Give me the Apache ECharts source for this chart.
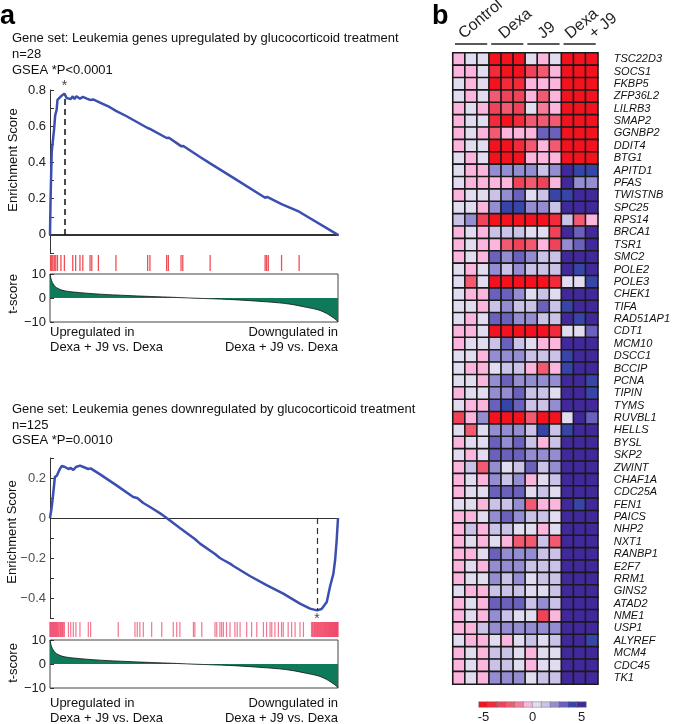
<!DOCTYPE html>
<html><head><meta charset="utf-8">
<script src="https://cdn.jsdelivr.net/npm/echarts@6/dist/echarts.min.js"></script>
<style>html,body{margin:0;padding:0;background:#fff}#c{width:673px;height:724px}</style>
</head><body><div id="c"></div>
<script>
// ---------------- Panel a data ----------------
const upTitle = 'Gene set: Leukemia genes upregulated by glucocorticoid treatment\nn=28\nGSEA *P<0.0001';
const downTitle = 'Gene set: Leukemia genes downregulated by glucocorticoid treatment\nn=125\nGSEA *P=0.0010';
const leftNote = 'Upregulated in\nDexa + J9 vs. Dexa';
const rightNote = 'Downgulated in\nDexa + J9 vs. Dexa';

const upCurve = [[0,0],[2,0.2],[4,0.33],[6,0.46],[10,0.46],[14,0.58],[18,0.66],[23,0.69],[26,0.745],[30,0.74],[38,0.765],[50,0.78],[58,0.755],[64,0.765],[72,0.75],[79,0.765],[85,0.75],[92,0.765],[104,0.752],[114,0.762],[128,0.752],[139,0.745],[145,0.755],[150,0.748],[168,0.735],[170,0.742],[208,0.705],[229,0.685],[231,0.691],[266,0.655],[339,0.59],[341,0.594],[347,0.585],[349,0.589],[405,0.535],[407,0.539],[411,0.532],[413,0.536],[455,0.49],[457,0.494],[461,0.487],[463,0.491],[521,0.43],[556,0.395],[558,0.399],[637,0.315],[747,0.205],[749,0.209],[752,0.206],[754,0.21],[758,0.206],[760,0.21],[804,0.17],[806,0.175],[865,0.128],[867,0.133],[1000,0]];
const upHits = [2,6,10,15,20,26,38,50,79,89,104,114,139,145,168,229,339,347,405,411,455,461,556,747,752,758,804,865];
const upPeak = [50, 0.78];
const upESTicks = [-0.1,0,0.1,0.2,0.3,0.4,0.5,0.6,0.7,0.8];
const upESLabels = [0,0.2,0.4,0.6,0.8];

const downCurve = [[0,0],[6,0.055],[11,0.12],[17,0.205],[24,0.212],[29,0.222],[35,0.247],[41,0.26],[52,0.255],[64,0.245],[72,0.25],[81,0.24],[90,0.255],[104,0.262],[116,0.255],[133,0.245],[141,0.248],[174,0.218],[231,0.163],[289,0.105],[303,0.1],[324,0.075],[353,0.05],[388,0.018],[405,0],[428,-0.025],[451,-0.05],[503,-0.105],[521,-0.128],[573,-0.18],[590,-0.2],[602,-0.21],[625,-0.228],[637,-0.24],[694,-0.29],[752,-0.336],[810,-0.378],[868,-0.428],[903,-0.453],[927,-0.462],[943,-0.455],[961,-0.42],[972,-0.345],[984,-0.278],[990,-0.21],[995,-0.12],[1000,0]];
const downHits = [0,1,3,5,7,9,11,13,15,17,19,21,23,25,27,29,32,35,37,39,42,44,46,50,
  64,72,81,90,104,133,141,237,295,303,312,324,353,388,428,440,451,498,503,527,573,579,590,596,602,613,625,642,650,660,683,700,718,741,752,764,770,781,793,804,810,827,839,851,868,880,
  908,911,913,916,918,920,922,925,927,929,931,933,935,937,939,941,943,945,947,949,951,953,954,956,958,960,961,963,965,966,968,969,971,972,974,975,977,978,980,981,983,984,985,987,988,989,991,992,993,994,995,996,997,998,999,1000];
const downPeak = [927, -0.462];
const downESTicks = [-0.5,-0.4,-0.3,-0.2,-0.1,0,0.1,0.2,0.3];
const downESLabels = [-0.4,-0.2,0,0.2];

const tScoreCurve = [[0,10],[3,8.2],[8,6.5],[15,5.2],[23,4.3],[41,3.3],[60,2.8],[81,2.5],[127,2.0],[174,1.6],[231,1.25],[289,0.93],[347,0.65],[405,0.4],[475,0.05],[521,-0.15],[579,-0.4],[637,-0.7],[694,-1.1],[752,-1.6],[810,-2.2],[850,-2.9],[891,-3.9],[920,-4.6],[938,-5.2],[960,-6.4],[972,-7.3],[985,-8.3],[995,-9.3],[1000,-10]];
const tTicks = [-10,0,10];

// ---------------- Panel b data ----------------
const genes = ['TSC22D3','SOCS1','FKBP5','ZFP36L2','LILRB3','SMAP2','GGNBP2','DDIT4','BTG1','APITD1','PFAS','TWISTNB','SPC25','RPS14','BRCA1','TSR1','SMC2','POLE2','POLE3','CHEK1','TIFA','RAD51AP1','CDT1','MCM10','DSCC1','BCCIP','PCNA','TIPIN','TYMS','RUVBL1','HELLS','BYSL','SKP2','ZWINT','CHAF1A','CDC25A','FEN1','PAICS','NHP2','NXT1','RANBP1','E2F7','RRM1','GINS2','ATAD2','NME1','USP1','ALYREF','MCM4','CDC45','TK1'];
const samples = ['C1','C2','C3','D1','D2','D3','J1','J2','J3','DJ1','DJ2','DJ3'];
const groupNames = ['Control','Dexa','J9','Dexa\n+ J9'];
const groupSpans = [[0,2],[3,5],[6,8],[9,11]];
const heatRows = [
[-0.5,0.5,0.5,-5,-5,-5,0.5,-0.5,0.5,-5,-5,-5],
[-0.5,-0.5,0.5,-4,-5,-5,-3,-2,-0.5,-5,-5,-5],
[0.5,-0.5,0.5,-5,-4,-4,-0.5,-0.5,-0.5,-5,-5,-5],
[0.5,-0.5,0.5,-2,-3,-3,-0.5,-2,-0.5,-5,-5,-5],
[-0.5,0.5,-0.5,-3,-2,-3,0.5,-1,-0.5,-5,-5,-5],
[-0.5,0.5,0.5,-4,-5,-4,-2,-2,-2,-5,-5,-5],
[-0.5,0.5,-0.5,-2,-0.5,-0.5,-0.5,3,3,-5,-5,-5],
[-0.5,0.5,0.5,-5,-5,-4,-2,-0.5,-2,-5,-5,-5],
[0.5,-0.5,0.5,-5,-5,-5,-0.5,-0.5,-0.5,-5,-5,-5],
[0.5,-0.5,-0.5,2,2,2,2,1,2,5,4,4],
[0.5,-0.5,-0.5,-0.5,-0.5,-3,-2,-3,-0.5,5,2,2],
[-0.5,0.5,0.5,1,2,3,0.5,1,4,4,5,5],
[0.5,0.5,-0.5,2,4,4,2,2,1,5,5,5],
[1,2,-3,-5,-5,-5,-5,-5,-4,1,-2,-0.5],
[-0.5,0.5,-0.5,1,1,1,0.5,0.5,-3,5,3,5],
[-0.5,0.5,-0.5,-0.5,-2,-3,-2,-0.5,-3,2,3,5],
[-0.5,0.5,-0.5,3,2,3,2,1,1,5,5,5],
[0.5,-0.5,0.5,2,1,2,1,1,1,5,4,5],
[0.5,-2,0.5,-5,-5,-5,-5,-5,-4,0.5,0.5,4],
[0.5,-0.5,-0.5,3,3,2,0.5,1,0.5,5,5,5],
[0.5,0.5,-0.5,1,2,1,1,3,1,4,5,5],
[0.5,-0.5,0.5,3,3,2,2,1,1,5,4,5],
[-0.5,-0.5,0.5,-5,-5,-5,-5,-5,-4,0.5,0.5,3],
[-0.5,0.5,0.5,1,3,1,0.5,-0.5,-0.5,5,5,5],
[0.5,0.5,-0.5,2,2,2,1,1,1,4,5,5],
[0.5,-0.5,-0.5,0.5,1,1,-0.5,-2,-0.5,4,5,5],
[0.5,0.5,-0.5,2,3,2,2,2,2,5,5,4],
[-0.5,0.5,0.5,2,2,3,1,1,0.5,5,5,4],
[0.5,-0.5,-0.5,3,4,3,1,1,2,5,5,5],
[-3,-0.5,2,-5,-5,-5,-2,-5,-5,0.5,5,3],
[0.5,-2,0.5,2,2,2,1,4,1,4,5,5],
[-0.5,0.5,0.5,3,2,3,1,-0.5,1,5,5,5],
[0.5,-0.5,0.5,3,3,3,2,2,2,5,5,5],
[-0.5,1,-2,2,0.5,1,3,1,2,5,5,5],
[-0.5,0.5,-0.5,2,1,2,-0.5,0.5,1,5,5,5],
[-0.5,0.5,0.5,3,3,3,0.5,1,0.5,5,5,5],
[0.5,0.5,-0.5,1,1,2,-2,-0.5,-0.5,5,4,5],
[-0.5,-0.5,0.5,2,3,2,1,1,0.5,5,5,5],
[-0.5,1,-0.5,1,1,0.5,0.5,-0.5,0.5,5,5,5],
[-0.5,0.5,-0.5,0.5,-0.5,-2,-2,1,-2,5,5,5],
[-0.5,-0.5,0.5,3,2,2,2,1,1,5,5,5],
[-0.5,0.5,-0.5,2,2,2,1,1,1,5,5,5],
[-0.5,0.5,0.5,2,1,2,0.5,1,1,5,5,5],
[0.5,-0.5,-0.5,1,1,1,0.5,0.5,1,5,5,5],
[-0.5,0.5,-0.5,3,3,3,1,2,1,5,5,5],
[-0.5,0.5,-0.5,2,1,0.5,0.5,-3,-0.5,5,5,5],
[-0.5,-0.5,1,2,2,2,2,2,2,5,5,5],
[0.5,-0.5,-0.5,0.5,-0.5,0.5,1,0.5,1,5,5,4],
[-0.5,0.5,-0.5,1,1,0.5,-0.5,0.5,0.5,5,5,5],
[-0.5,0.5,-0.5,1,1,0.5,-0.5,0.5,0.5,5,5,5],
[-0.5,0.5,-0.5,2,2,2,0.5,1,1,5,5,5]
];
const colorbarValues = [-5,-4,-3,-2,-1,-0.5,0.5,1,2,3,4,5];
const colorbarLabels = [-5,0,5];

// ---------------- styles ----------------
const FONT = '"Liberation Sans", Arial, Helvetica, sans-serif';
const binColors = ['#f3121e','#f22a3a','#f04258','#f25a72','#f77c98','#fcb6de','#e2dcf1','#cbc2e7','#948dd2','#6a61bd','#3745a9','#42299b'];
const CB_MIN = -60/11, CB_MAX = 60/11, CB_STEP = 10/11;
const pieces = binColors.map((c,i)=>({gte: CB_MIN+i*CB_STEP, lt: CB_MIN+(i+1)*CB_STEP+(i===binColors.length-1?0.01:0), color:c}));
const ES_BLUE = '#3a4fb0';
const T_GREEN = '#0f7a5a';
const LABEL_DX = [11, 15, 18, 9];
const LABEL_LINE2_DX = 24;
const LABEL_ANGLE = 40*Math.PI/180;

const minus = v => v < 0 ? '\u2212' + String(Math.abs(v)) : String(v);
const tenth = v => Math.round(Number(v)*10);
const esText = r => r === 0 ? '0' : (r < 0 ? '\u2212' : '') + (Math.abs(r)/10).toFixed(1);
const esFmt = v => esText(tenth(v));

const heatData = [];
heatRows.forEach((row,r)=>row.forEach((v,c)=>heatData.push([c,r,v])));

const GX = 50, GW = 288;
const axLabel = {color:'#222', fontSize:13, fontFamily:FONT};

function tY(grid){
  return {type:'value', gridIndex:grid, min:-10, max:10,
    axisLine:{show:false},
    axisTick:{show:true, inside:true, length:4, customValues:tTicks, lineStyle:{color:'#333'}},
    axisLabel:Object.assign({customValues:tTicks, formatter:minus, margin:4}, axLabel),
    splitLine:{show:false}};
}
function rankX(grid, lineShow, lineW){
  return {type:'value', gridIndex:grid, min:0, max:1000,
    axisLine:{show:lineShow, onZero:true, lineStyle:{color:'#333', width:lineW}},
    axisTick:{show:false}, axisLabel:{show:false}, splitLine:{show:false}};
}
function hiddenY(grid){ return {type:'value', gridIndex:grid, min:0, max:1, show:false}; }

const option = {
  animation:false,
  backgroundColor:'#fff',
  textStyle:{fontFamily:FONT},
  grid:[
    {left:GX, width:GW, top:90, height:163},
    {left:GX, width:GW, top:255, height:16},
    {left:GX, width:GW, top:274, height:48, show:true, borderColor:'#444', borderWidth:1},
    {left:GX, width:GW, top:458, height:160},
    {left:GX, width:GW, top:622, height:15},
    {left:GX, width:GW, top:640, height:48, show:true, borderColor:'#444', borderWidth:1},
    {left:453, width:146, top:53, height:631},
    {left:479, width:107, top:702, height:9}
  ],
  xAxis:[
    rankX(0, true, 2),
    rankX(1, false, 1),
    rankX(2, false, 1),
    rankX(3, true, 1),
    rankX(4, false, 1),
    rankX(5, false, 1),
    {type:'category', gridIndex:6, data:samples, show:false},
    {type:'category', gridIndex:7, data:colorbarValues.map(String), show:false},
    {type:'value', gridIndex:7, min:CB_MIN, max:CB_MAX, position:'bottom',
      axisLine:{show:false}, axisTick:{show:false}, splitLine:{show:false},
      axisLabel:{customValues:colorbarLabels, margin:4, color:'#222', fontSize:13, fontFamily:FONT, formatter:v=>String(v)}}
  ],
  yAxis:[
    {type:'value', gridIndex:0, min:-0.1, max:0.8,
      axisLine:{show:true, lineStyle:{color:'#333', width:1}},
      axisTick:{show:true, inside:true, length:4, customValues:upESTicks, lineStyle:{color:'#333'}},
      axisLabel:Object.assign({customValues:upESLabels, formatter:esFmt, margin:4}, axLabel),
      splitLine:{show:false}},
    hiddenY(1),
    tY(2),
    {type:'value', gridIndex:3, min:-0.5, max:0.3,
      axisLine:{show:true, lineStyle:{color:'#333', width:1}},
      axisTick:{show:true, inside:true, length:4, customValues:downESTicks, lineStyle:{color:'#333'}},
      axisLabel:{show:false},
      splitLine:{show:false}},
    hiddenY(4),
    tY(5),
    {type:'category', gridIndex:6, data:genes, inverse:true, position:'right',
      axisLine:{show:false}, axisTick:{show:false},
      axisLabel:{interval:0, fontStyle:'italic', fontSize:11, color:'#111', margin:16, fontFamily:FONT}},
    {type:'category', gridIndex:7, data:['cb'], show:false}
  ],
  visualMap:{type:'piecewise', show:false, dimension:2, seriesIndex:[9,10], pieces},
  series:[
    {type:'line', xAxisIndex:0, yAxisIndex:0, data:upCurve, symbol:'none', z:3,
      lineStyle:{color:ES_BLUE, width:2.5},
      markLine:{silent:true, symbol:'none', label:{show:false},
        lineStyle:{color:'#111', type:[6,4], width:1.5},
        data:[[{coord:[upPeak[0],0]},{coord:[upPeak[0],upPeak[1]-0.015]}]]}},
    {type:'scatter', xAxisIndex:0, yAxisIndex:0, data:[upPeak], symbolSize:1, itemStyle:{color:'transparent'}, clip:false,
      label:{show:true, formatter:'*', position:'top', distance:0, fontSize:14, color:'#111'}},
    {type:'scatter', xAxisIndex:1, yAxisIndex:1, data:upHits.map(r=>[r,0.5]), symbol:'rect', symbolSize:[1.3,16],
      itemStyle:{color:'#e8262e'}},
    {type:'line', xAxisIndex:2, yAxisIndex:2, data:tScoreCurve, symbol:'none', smooth:0.3,
      lineStyle:{color:'#111', width:0.8}, areaStyle:{color:T_GREEN, opacity:1}},
    {type:'line', xAxisIndex:3, yAxisIndex:3, data:downCurve, symbol:'none', z:3,
      lineStyle:{color:ES_BLUE, width:2.5},
      markLine:{silent:true, symbol:'none', label:{show:false},
        lineStyle:{color:'#333', type:[6,4], width:1.2},
        data:[[{coord:[downPeak[0],0]},{coord:[downPeak[0],downPeak[1]]}]]}},
    {type:'scatter', xAxisIndex:3, yAxisIndex:3, data:[downPeak], symbolSize:1, itemStyle:{color:'transparent'}, clip:false,
      label:{show:true, formatter:'*', position:'bottom', distance:1, fontSize:14, color:'#111'}},
    {type:'scatter', xAxisIndex:4, yAxisIndex:4, data:downHits.map(r=>[r,0.5]), symbol:'rect', symbolSize:[1.2,15],
      itemStyle:{color:'#f0486a', opacity:0.75}},
    {type:'line', xAxisIndex:5, yAxisIndex:5, data:tScoreCurve, symbol:'none', smooth:0.3,
      lineStyle:{color:'#111', width:0.8}, areaStyle:{color:T_GREEN, opacity:1}},
    {type:'custom', xAxisIndex:6, yAxisIndex:6, coordinateSystem:'cartesian2d', silent:true, clip:false,
      data:groupSpans.map((g,i)=>[g[0],g[1],i]),
      renderItem(params, api){
        const i = api.value(2);
        const a = api.coord([api.value(0), 0]);
        const b = api.coord([api.value(1), 0]);
        const sz = api.size([1,1]);
        const x0 = a[0]-sz[0]/2+2, x1 = b[0]+sz[0]/2-2;
        const y = a[1]-sz[1]/2-9;
        const children = [{type:'line', shape:{x1:x0,y1:y,x2:x1,y2:y}, style:{stroke:'#222', lineWidth:1.4}}];
        groupNames[i].split('\n').forEach((t,k)=>{
          children.push({type:'text', x:x0+LABEL_DX[i]+k*LABEL_LINE2_DX, y:y-2, rotation:LABEL_ANGLE,
            style:{text:t, fill:'#222', font:'16px '+FONT, align:'left', verticalAlign:'bottom'}});
        });
        return {type:'group', children};
      }},
    {type:'heatmap', xAxisIndex:6, yAxisIndex:6, data:heatData,
      itemStyle:{borderColor:'#1a1a1a', borderWidth:1.6}, emphasis:{disabled:true}},
    {type:'heatmap', xAxisIndex:7, yAxisIndex:7, data:colorbarValues.map((v,i)=>[i,0,v]),
      itemStyle:{borderColor:'#777', borderWidth:0.5}, emphasis:{disabled:true}},
    // tick labels of the lower enrichment axis, placed by the axis scale
    {type:'scatter', xAxisIndex:3, yAxisIndex:3, data:downESLabels.map(v=>[0,v]), symbolSize:0, clip:false, z:10, silent:true,
      itemStyle:{color:'transparent'},
      label:{show:true, position:'left', distance:4, formatter:p=>esText(tenth(p.value[1])), color:'#222', fontSize:13, fontFamily:FONT}}
  ],
  graphic:[
    {type:'text', x:0, y:17, style:{text:'a', font:'bold 27px '+FONT, fill:'#000', verticalAlign:'middle'}},
    {type:'text', x:432, y:17, style:{text:'b', font:'bold 27px '+FONT, fill:'#000', verticalAlign:'middle'}},
    {type:'text', x:12, y:30, style:{text:upTitle, font:'13px '+FONT, lineHeight:16, fill:'#111', verticalAlign:'top'}},
    {type:'text', x:12, y:402, style:{text:downTitle, font:'13px '+FONT, lineHeight:15.5, fill:'#111', verticalAlign:'top'}},
    {type:'text', x:50, y:325, style:{text:leftNote, font:'13px '+FONT, lineHeight:15, fill:'#111', verticalAlign:'top'}},
    {type:'text', x:338, y:325, style:{text:rightNote, font:'13px '+FONT, lineHeight:15, fill:'#111', verticalAlign:'top', align:'right'}},
    {type:'text', x:50, y:696, style:{text:leftNote, font:'13px '+FONT, lineHeight:15, fill:'#111', verticalAlign:'top'}},
    {type:'text', x:338, y:696, style:{text:rightNote, font:'13px '+FONT, lineHeight:15, fill:'#111', verticalAlign:'top', align:'right'}},
    {type:'text', x:13, y:160, rotation:Math.PI/2, style:{text:'Enrichment Score', font:'13px '+FONT, fill:'#111', align:'center', verticalAlign:'middle'}},
    {type:'text', x:12, y:532, rotation:Math.PI/2, style:{text:'Enrichment Score', font:'13px '+FONT, fill:'#111', align:'center', verticalAlign:'middle'}},
    {type:'text', x:13, y:294, rotation:Math.PI/2, style:{text:'t-score', font:'13px '+FONT, fill:'#111', align:'center', verticalAlign:'middle'}},
    {type:'text', x:13, y:663, rotation:Math.PI/2, style:{text:'t-score', font:'13px '+FONT, fill:'#111', align:'center', verticalAlign:'middle'}}
  ]
};
const chart = echarts.init(document.getElementById('c'), null, {renderer:'canvas'});
chart.setOption(option);
</script>
</body></html>
